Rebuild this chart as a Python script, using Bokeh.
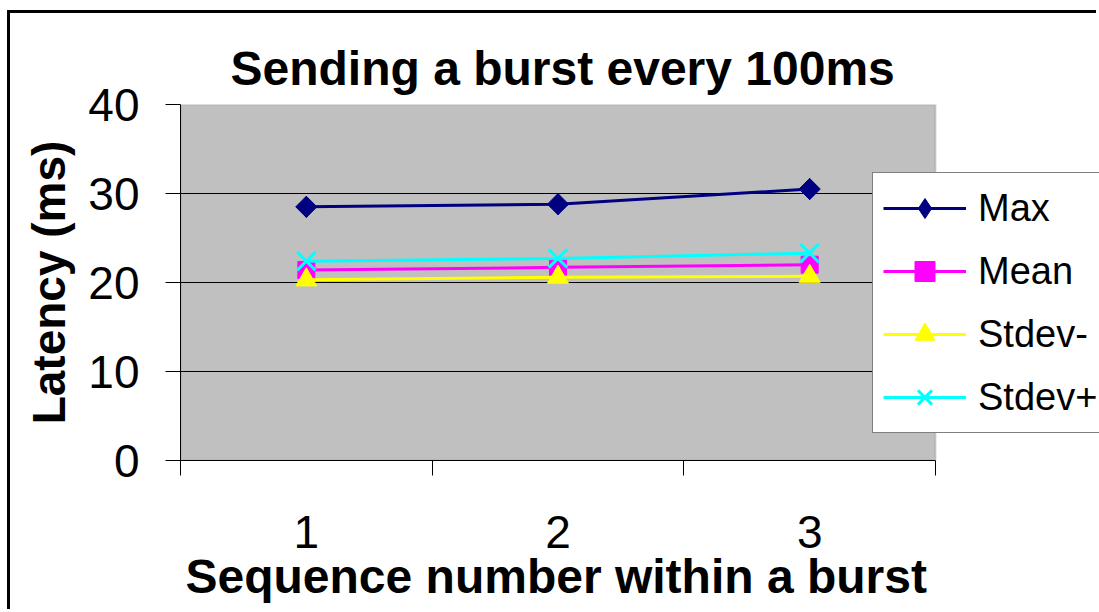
from bokeh.plotting import figure
from bokeh.models import Range1d, FixedTicker, Legend, LegendItem, BoxAnnotation, Title
from bokeh.embed import file_html
from bokeh.resources import INLINE
import math

# Latency per position inside a burst (ms)
sequence = [1, 2, 3]
seq_labels = ["1", "2", "3"]
max_ms = [28.5, 28.8, 30.5]
mean_ms = [21.4, 21.7, 22.0]
stdev_minus = [20.3, 20.6, 20.7]
stdev_plus = [22.4, 22.7, 23.3]
y_ticks = [0, 10, 20, 30, 40]
grid_values = [10, 20, 30]

FONT = "Liberation Sans"

# canvas geometry: the frame runs to the right edge so the legend can
# overlap the grey plot area and spill past it
CANVAS_W, CANVAS_H = 1089, 599
FRAME_LEFT, FRAME_TOP, FRAME_BOTTOM = 170, 91, 152
PLOT_W = 755                      # width of the grey plot area in px
FRAME_W = CANVAS_W - FRAME_LEFT
x_lo, x_hi = 0.5, 3.5
x_end = x_lo + (x_hi - x_lo) * FRAME_W / PLOT_W

p = figure(
    width=CANVAS_W, height=CANVAS_H,
    output_backend="svg", toolbar_location=None,
    x_range=Range1d(x_lo, x_end), y_range=Range1d(0, 40),
    min_border_left=FRAME_LEFT, min_border_right=0,
    min_border_top=FRAME_TOP, min_border_bottom=FRAME_BOTTOM,
    background_fill_color="white", border_fill_color="white",
)
p.outline_line_color = None
p.margin = (10, 0, 0, 7)
p.styles = {"border-left": "3px solid black", "border-top": "3px solid black"}

# grey plot area
p.add_layout(BoxAnnotation(left=x_lo, right=x_hi, bottom=0, top=40,
                           fill_color="#C0C0C0", fill_alpha=1,
                           line_color="#808080", line_width=2, level="underlay"))

# horizontal gridlines inside the plot area only
p.segment(x0=[x_lo] * len(grid_values), x1=[x_hi] * len(grid_values),
          y0=grid_values, y1=grid_values, line_color="black", line_width=1)

# title
p.title.text = "Sending a burst every 100ms"
p.title.align = "left"
p.title.offset = 50
p.title.text_color = "black"
p.title.text_font = FONT
p.title.text_font_size = "48px"
p.title.text_font_style = "bold"
p.title.standoff = 19

# y axis
p.yaxis.ticker = FixedTicker(ticks=y_ticks)
p.yaxis.axis_label = "Latency (ms)"
p.yaxis.axis_label_text_color = "black"
p.yaxis.axis_label_text_font = FONT
p.yaxis.axis_label_text_font_size = "46px"
p.yaxis.axis_label_text_font_style = "bold"
p.yaxis.axis_label_standoff = 10
p.yaxis.major_label_text_font = FONT
p.yaxis.major_label_text_font_size = "46px"
p.yaxis.major_label_text_color = "black"
p.yaxis.major_label_standoff = 26
p.yaxis.major_tick_out = 15
p.yaxis.major_tick_in = 0
p.yaxis.minor_tick_line_color = None
p.yaxis.axis_line_color = "black"
p.yaxis.major_tick_line_color = "black"

# x axis: labels at the categories, tick marks between them
xax = p.xaxis[0]
xax.bounds = (x_lo, x_hi)
xax.ticker = FixedTicker(ticks=sequence, minor_ticks=[0.5, 1.5, 2.5, 3.5])
xax.major_label_overrides = {s: l for s, l in zip(sequence, seq_labels)}
xax.major_label_text_font = FONT
xax.major_label_text_font_size = "46px"
xax.major_label_text_color = "black"
xax.major_label_standoff = 40
xax.major_tick_line_color = None
xax.major_tick_out = 0
xax.major_tick_in = 0
xax.minor_tick_line_color = "black"
xax.minor_tick_out = 15
xax.minor_tick_in = 0
xax.axis_line_color = "black"

# x axis title, centred under the grey plot area rather than the frame
p.add_layout(Title(text="Sequence number within a burst", align="left", offset=5,
                   standoff=-6, text_color="black", text_font=FONT,
                   text_font_size="48px", text_font_style="bold"), "below")

p.xgrid.grid_line_color = None
p.ygrid.grid_line_color = None

series = [
    ("Max", max_ms, "#000080", "square", 15, math.pi / 4),
    ("Mean", mean_ms, "#FF00FF", "square", 17, 0),
    ("Stdev-", stdev_minus, "#FFFF00", "triangle", 21, 0),
    ("Stdev+", stdev_plus, "#00FFFF", "x", 26, 0),
]

items = []
for name, vals, color, marker, size, angle in series:
    ln = p.line(sequence, vals, line_color=color, line_width=3)
    renderers = [ln]
    if angle:
        # upright diamond under the rotated square; it is what the key shows
        key = p.scatter(sequence, vals, marker="diamond", size=21,
                        fill_color=color, line_color=color)
        renderers.append(key)
    sc = p.scatter(sequence, vals, marker=marker, size=size, angle=angle,
                   fill_color=color, line_color=color,
                   line_width=3 if marker == "x" else 1)
    if not angle:
        renderers.append(sc)
    items.append(LegendItem(label=name, renderers=renderers))

legend = Legend(
    items=items, location=(692, 27),
    glyph_width=83, glyph_height=50, label_height=50, spacing=13,
    padding=10, label_standoff=12,
    label_text_font=FONT, label_text_font_size="38px", label_text_color="black",
    border_line_color="black", border_line_width=1,
    background_fill_color="white", background_fill_alpha=1,
)
p.add_layout(legend, "center")

open("out.html", "w").write(file_html(p, INLINE))
